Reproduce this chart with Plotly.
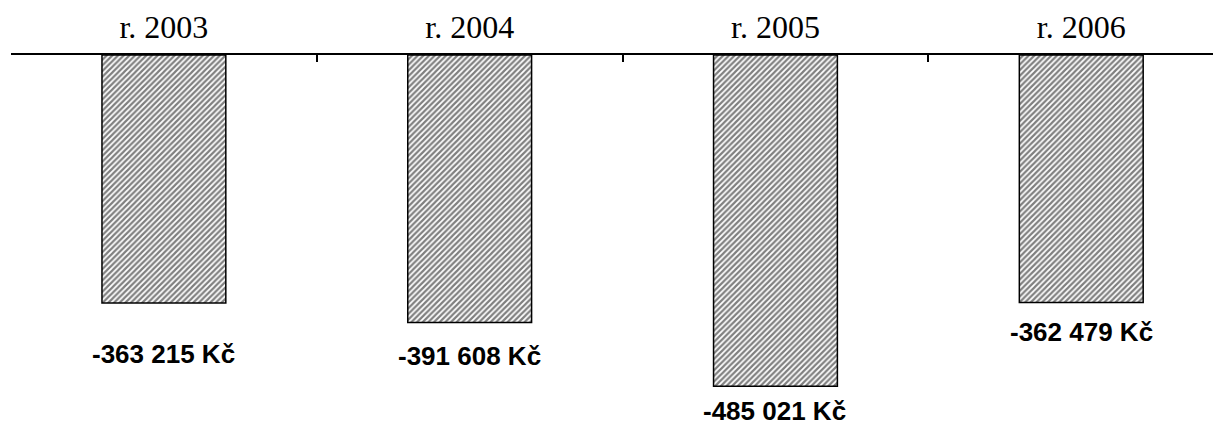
import plotly.graph_objects as go

categories = ["r. 2003", "r. 2004", "r. 2005", "r. 2006"]
values = [-363215, -391608, -485021, -362479]
labels = ["-363 215 Kč", "-391 608 Kč", "-485 021 Kč", "-362 479 Kč"]

# label offsets (pixels) relative to the bar end
label_xshift = [0, 0, -1, 0]
label_yshift = [-51, -34, -25, -29]

fig = go.Figure()
fig.add_trace(go.Bar(
    x=categories, y=values, width=0.405,
    marker=dict(color="white", line=dict(color="black", width=1.5),
                pattern=dict(shape="/", size=4, solidity=0.55,
                             fgcolor="black", bgcolor="white")),
    hoverinfo="skip",
))

for i, (c, v, t) in enumerate(zip(categories, values, labels)):
    fig.add_annotation(x=c, y=v, text="<b>%s</b>" % t, showarrow=False,
                       xanchor="center", yanchor="middle",
                       xshift=label_xshift[i], yshift=label_yshift[i],
                       font=dict(family="Liberation Sans, Arial", size=26, color="black"))

fig.update_layout(
    width=1221, height=425,
    margin=dict(l=3, r=8, t=47, b=8, autoexpand=False),
    paper_bgcolor="white", plot_bgcolor="white",
    showlegend=False,
    xaxis=dict(side="top", type="category", range=[-0.5, 3.457], automargin=False,
               showline=True, linecolor="black", linewidth=2,
               ticks="inside", tickson="boundaries", ticklen=7, tickwidth=2,
               tickcolor="black", showgrid=False, zeroline=False,
               ticklabelstandoff=2,
               tickfont=dict(family="Liberation Serif, Times New Roman", size=32, color="black")),
    yaxis=dict(range=[-541700, 0], visible=False, showgrid=False, zeroline=False,
               automargin=False),
)

fig.write_html("out.html")
